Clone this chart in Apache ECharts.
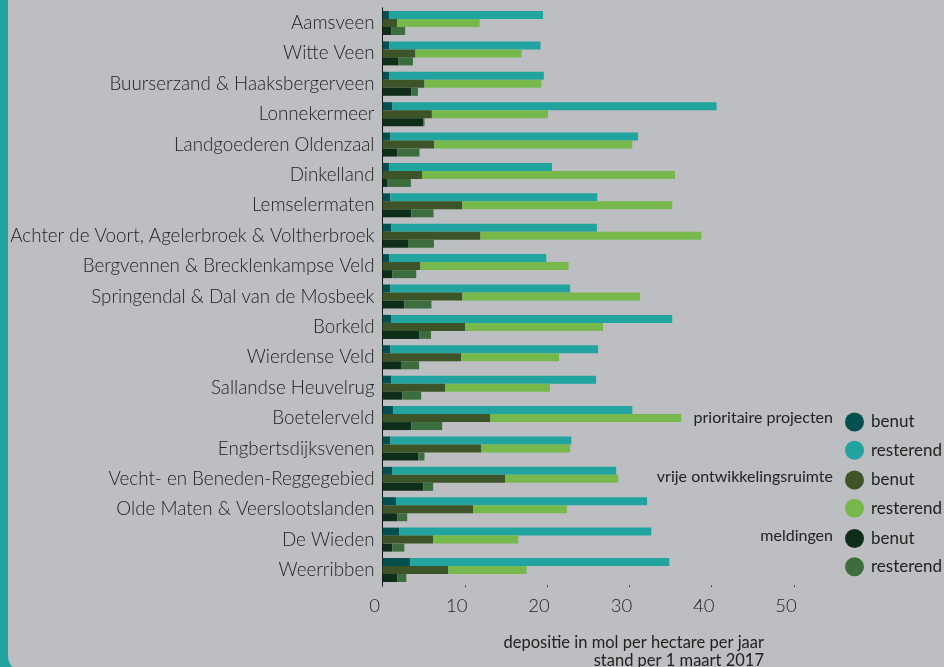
<!DOCTYPE html>
<html>
<head>
<meta charset="utf-8">
<script src="https://cdn.jsdelivr.net/npm/echarts@6/dist/echarts.min.js"></script>
<style>
  html, body { margin: 0; padding: 0; width: 944px; height: 667px; overflow: hidden; background: #21a39f; }
  #bg { position: absolute; left: 8px; top: 0; width: 960px; height: 672px; background: #bdbec1; border-bottom-left-radius: 16px; }
  #chart { position: absolute; left: 0; top: 0; width: 944px; height: 667px; }
</style>
</head>
<body>
<div id="bg"></div>
<div id="chart"></div>
<script>
const categories = [
  'Aamsveen', 'Witte Veen', 'Buurserzand & Haaksbergerveen', 'Lonnekermeer',
  'Landgoederen Oldenzaal', 'Dinkelland', 'Lemselermaten',
  'Achter de Voort, Agelerbroek & Voltherbroek', 'Bergvennen & Brecklenkampse Veld',
  'Springendal & Dal van de Mosbeek', 'Borkeld', 'Wierdense Veld', 'Sallandse Heuvelrug',
  'Boetelerveld', 'Engbertsdijksvenen', 'Vecht- en Beneden-Reggegebied',
  'Olde Maten & Veerslootslanden', 'De Wieden', 'Weerribben'
];
const prioBenut     = [0.8, 0.8, 0.8, 1.2, 0.95, 0.8, 0.95, 1.05, 0.8, 0.95, 1.05, 0.95, 1.05, 1.3, 0.95, 1.2, 1.65, 2.05, 3.35];
const prioResterend = [18.7, 18.4, 18.8, 39.4, 30.1, 19.8, 25.15, 25.0, 19.1, 21.85, 34.15, 25.25, 24.9, 29.05, 22.0, 27.2, 30.5, 30.6, 31.5];
const vrijBenut     = [1.8, 4.0, 5.1, 6.0, 6.3, 4.8, 9.7, 11.9, 4.6, 9.7, 10.05, 9.55, 7.6, 13.1, 12.0, 14.9, 11.0, 6.15, 8.0];
const vrijResterend = [10.0, 12.9, 14.2, 14.1, 24.05, 30.75, 25.5, 26.85, 18.0, 21.6, 16.75, 11.9, 12.75, 23.2, 10.8, 13.75, 11.4, 10.35, 9.5];
const meldBenut     = [1.05, 1.9, 3.5, 4.95, 1.8, 0.55, 3.5, 3.1, 1.2, 2.65, 4.45, 2.25, 2.4, 3.5, 4.35, 4.95, 1.8, 1.2, 1.8];
const meldResterend = [1.7, 1.8, 0.8, 0.15, 2.7, 2.9, 2.7, 3.15, 2.9, 3.3, 1.45, 2.2, 2.3, 3.75, 0.75, 1.2, 1.2, 1.45, 1.1];
const xTicks = [0, 10, 20, 30, 40, 50];

const groupTitles = ['prioritaire projecten', 'vrije ontwikkelingsruimte', 'meldingen'];
const benutLabel = 'benut';
const resterendLabel = 'resterend';
const axisTitle1 = 'depositie in mol per hectare per jaar';
const axisTitle2 = 'stand per 1 maart 2017';

const colors = {
  pB: '#024f50', pR: '#21a39f',
  vB: '#3c5427', vR: '#77b84c',
  mB: '#0f2e19', mR: '#3b6d3e'
};
const FONT = 'Lato, "Open Sans", "Noto Sans", sans-serif';
const TXT = '#222222';

function mk(name, stack, data, color) {
  return {
    name: name, type: 'bar', stack: stack, data: data,
    barWidth: 8, barGap: '0%',
    itemStyle: { color: color },
    emphasis: { disabled: true },
    animation: false
  };
}

const series = [
  mk('p benut', 'p', prioBenut, colors.pB),
  mk('p resterend', 'p', prioResterend, colors.pR),
  mk('v benut', 'v', vrijBenut, colors.vB),
  mk('v resterend', 'v', vrijResterend, colors.vR),
  mk('m benut', 'm', meldBenut, colors.mB),
  mk('m resterend', 'm', meldResterend, colors.mR)
];

function legendAt(top, names) {
  return {
    orient: 'vertical', left: 840, top: top,
    icon: 'circle', itemWidth: 19, itemHeight: 19, itemGap: 9.3,
    selectedMode: false,
    data: names,
    formatter: function (n) { return n.endsWith('benut') ? benutLabel : resterendLabel; },
    textStyle: { fontFamily: FONT, fontSize: 17, color: TXT, padding: [4, 0, 0, 2] }
  };
}

const chart = echarts.init(document.getElementById('chart'), null, { renderer: 'canvas' });
chart.setOption({
  backgroundColor: 'transparent',
  animation: false,
  grid: { left: 382.5, right: 150, top: 7.8, bottom: 81.8, containLabel: false },
  xAxis: {
    type: 'value', min: xTicks[0], max: xTicks[xTicks.length - 1], interval: 10,
    axisLine: { show: false },
    axisTick: { show: true, length: 2, lineStyle: { color: '#444' } },
    splitLine: { show: false },
    axisLabel: { fontFamily: FONT, fontSize: 18.5, fontWeight: 300, color: TXT, margin: 11, padding: [0, 16, 0, 0] }
  },
  yAxis: {
    type: 'category', data: categories, inverse: true,
    axisLine: { show: true, lineStyle: { color: '#111', width: 1 } },
    axisTick: { show: false },
    axisLabel: { fontFamily: FONT, fontSize: 18.8, fontWeight: 300, color: TXT, margin: 8, padding: [0, 0, 4, 0] }
  },
  legend: [
    legendAt(407.5, ['p benut', 'p resterend']),
    legendAt(465.5, ['v benut', 'v resterend']),
    legendAt(524, ['m benut', 'm resterend'])
  ],
  graphic: [
    { type: 'text', right: 944 - 833, top: 410, style: { text: groupTitles[0], font: '16px ' + FONT, fill: TXT } },
    { type: 'text', right: 944 - 833, top: 469, style: { text: groupTitles[1], font: '16px ' + FONT, fill: TXT } },
    { type: 'text', right: 944 - 833, top: 528, style: { text: groupTitles[2], font: '16px ' + FONT, fill: TXT } },
    { type: 'text', right: 944 - 764, top: 634, style: { text: axisTitle1, font: '16.5px ' + FONT, fill: TXT } },
    { type: 'text', right: 944 - 764, top: 652, style: { text: axisTitle2, font: '16.5px ' + FONT, fill: TXT } }
  ],
  series: series
});
</script>
</body>
</html>
